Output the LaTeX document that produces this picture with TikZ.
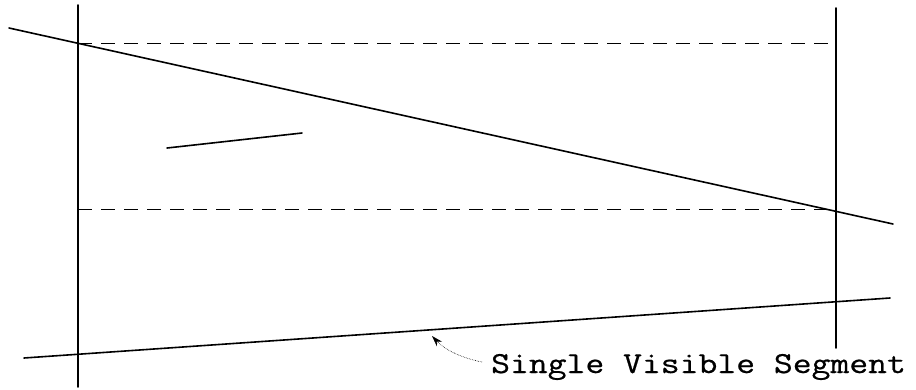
\documentclass[tikz,border=0pt]{standalone}
\usepackage{fontspec}
\newfontfamily\courlike[FakeStretch=1.2,FakeBold=0.6]{Latin Modern Mono}
\usetikzlibrary{arrows.meta}
\begin{document}
\begin{tikzpicture}[x=1pt,y=-1pt,
  solidline/.style={line width=1.6pt,line cap=round},
  guide/.style={line width=0.8pt,dash pattern=on 14pt off 9pt},
  pointer/.style={line width=0.6pt,densely dotted,-{Stealth[length=11pt,width=7pt]}},
  lbl/.style={font=\courlike\fontsize{30.5}{30.5}\selectfont,anchor=base west,inner sep=0pt}]
\useasboundingbox (0,0) rectangle (916,389);
% vertical lines
\coordinate (lt) at (78,5); \coordinate (lb) at (78,387);
\coordinate (rt) at (836,8); \coordinate (rb) at (836,348);
\draw[solidline] (lt) -- (lb);
\draw[solidline] (rt) -- (rb);
% dashed guides
\coordinate (d1a) at (78,43); \coordinate (d1b) at (836,43);
\coordinate (d2a) at (78,209); \coordinate (d2b) at (836,209);
\draw[guide] (d1a) -- (d1b);
\draw[guide] (d2a) -- (d2b);
% sloping line
\coordinate (sa) at (9,28); \coordinate (sb) at (893,224);
\draw[solidline] (sa) -- (sb);
% short segment
\coordinate (ha) at (167,148); \coordinate (hb) at (302,133);
\draw[solidline] (ha) -- (hb);
% bottom line
\coordinate (ba) at (24,358); \coordinate (bb) at (890,298);
\draw[solidline] (ba) -- (bb);
% label
\node[lbl] (label) at (491,373) {Single Visible Segment};
\coordinate (tail) at (482,362);
\coordinate (tip) at (432,336);
\draw[pointer] (tail) .. controls (462,358) and (445,350) .. (tip);
\end{tikzpicture}
\end{document}
